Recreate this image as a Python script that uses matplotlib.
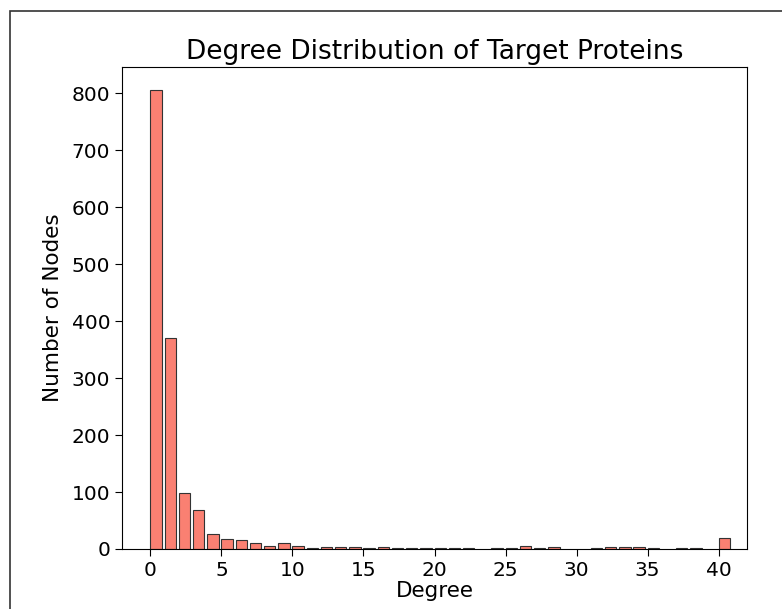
import matplotlib.pyplot as plt
from matplotlib.patches import Rectangle

# degree -> number of nodes (degrees missing from the list have no nodes)
degrees = [0, 1, 2, 3, 4, 5, 6, 7, 8, 9, 10, 11, 12, 13, 14, 15, 16, 17, 18, 19,
           20, 21, 22, 24, 25, 26, 27, 28, 31, 32, 33, 34, 35, 37, 38, 40]
counts = [806, 370, 98, 69, 27, 18, 15, 11, 6, 11, 5, 1, 4, 4, 4, 1, 4, 1, 1, 1,
          1, 1, 1, 1, 1, 5, 1, 3, 1, 4, 4, 4, 1, 1, 1, 19]

x_ticks = [0, 5, 10, 15, 20, 25, 30, 35, 40]
y_ticks = [0, 100, 200, 300, 400, 500, 600, 700, 800]

W, H = 782, 609
fig = plt.figure(figsize=(W / 100, H / 100), dpi=100)

# cadre de la capture d'écran
fig.patches.append(Rectangle((9.5 / W, -0.1), 1.2, 1.1 - 11 / H,
                             transform=fig.transFigure, fill=False,
                             edgecolor="#333333", linewidth=1.2))

ax = fig.add_axes([122 / W, (H - 549) / H, (747 - 122) / W, (549 - 67) / H])
ax.bar(degrees, counts, width=0.8, align="edge", color="salmon",
       edgecolor="#333333", linewidth=0.8)

ax.set_xlim(-2.0, 42.0)
ax.set_xticks(x_ticks)
ax.set_yticks(y_ticks)
ax.tick_params(labelsize=14.5, length=5)
ax.set_xlabel("Degree", fontsize=15.5, labelpad=1)
ax.set_ylabel("Number of Nodes", fontsize=15.5, labelpad=6)
ax.set_title("Degree Distribution of Target Proteins", fontsize=19, pad=6)

fig.savefig("out.png", dpi=100)
